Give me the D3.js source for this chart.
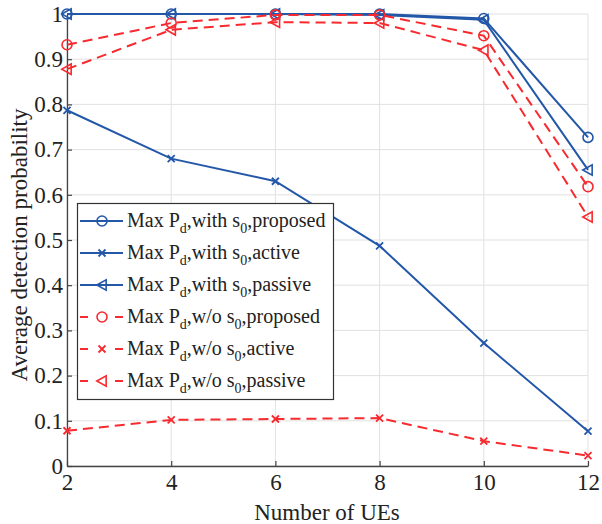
<!DOCTYPE html>
<html>
<head>
<meta charset="utf-8">
<script src="https://cdn.jsdelivr.net/npm/d3@7"></script>
</head>
<body style="margin:0; background:#fff">
<svg id="chart" width="602" height="524"></svg>
<script>
const ues = [2, 4, 6, 8, 10, 12]
const yTicks = [0, 0.1, 0.2, 0.3, 0.4, 0.5, 0.6, 0.7, 0.8, 0.9, 1]

const withProposed = [1, 1, 1, 1, 0.99, 0.727]
const withActive = [0.787, 0.68, 0.63, 0.487, 0.272, 0.077]
const withPassive = [1, 1, 1, 0.998, 0.987, 0.655]
const woProposed = [0.932, 0.98, 0.998, 0.998, 0.952, 0.618]
const woActive = [0.078, 0.102, 0.104, 0.106, 0.055, 0.023]
const woPassive = [0.878, 0.965, 0.982, 0.98, 0.92, 0.551]

const series = [
    { name: ',with s', tail: ',proposed', vals: withProposed, color: '#2357a8', dash: null, marker: 'circle' },
    { name: ',with s', tail: ',active', vals: withActive, color: '#2357a8', dash: null, marker: 'x' },
    { name: ',with s', tail: ',passive', vals: withPassive, color: '#2357a8', dash: null, marker: 'tri' },
    { name: ',w/o s', tail: ',proposed', vals: woProposed, color: '#f72a2f', dash: '10,6', marker: 'circle' },
    { name: ',w/o s', tail: ',active', vals: woActive, color: '#f72a2f', dash: '10,6', marker: 'x' },
    { name: ',w/o s', tail: ',passive', vals: woPassive, color: '#f72a2f', dash: '10,6', marker: 'tri' }
]

const serif = 'Liberation Serif'

// every text gets the serif face as an inline style
function face (sel, size) {
    return sel.style('font-family', serif).style('font-size', size + 'px')
}

let svg = d3.select('#chart')

let x = d3.scaleLinear().domain([2, 12]).range([67, 588])
let y = d3.scaleLinear().domain([0, 1]).range([466, 14])

// grid
let grid = svg.append('g')
grid.selectAll('line.gx')
    .data(ues)
    .enter()
    .append('line')
    .attr('x1', d => x(d)).attr('x2', d => x(d))
    .attr('y1', y(0)).attr('y2', y(1))
    .attr('stroke', '#e1e1e1').attr('stroke-width', 1)
grid.selectAll('line.gy')
    .data(yTicks)
    .enter()
    .append('line')
    .attr('x1', x(2)).attr('x2', x(12))
    .attr('y1', d => y(d)).attr('y2', d => y(d))
    .attr('stroke', '#e1e1e1').attr('stroke-width', 1)

// axes
let xAxis = d3.axisBottom(x).tickValues(ues).tickSizeInner(-5).tickSizeOuter(0).tickPadding(8)
let yAxis = d3.axisLeft(y).tickValues(yTicks).tickSizeInner(-5).tickSizeOuter(0).tickPadding(4)
    .tickFormat(d => d === 0 || d === 1 ? d3.format('d')(d) : d3.format('.1f')(d))

let gx = svg.append('g').attr('transform', `translate(0,${y(0)})`).call(xAxis)
let gy = svg.append('g').attr('transform', `translate(${x(2)},0)`).call(yAxis)
;[gx, gy].forEach(g => {
    g.attr('font-family', null).attr('font-size', null)
    g.select('.domain').attr('stroke', '#444').attr('stroke-width', 1.3)
    g.selectAll('.tick line').attr('stroke', '#444').attr('stroke-width', 1.2)
    face(g.selectAll('.tick text').attr('fill', '#222'), 23)
})
gx.selectAll('.tick text').attr('dy', '0.71em')

// labels
face(svg.append('text'), 23)
    .attr('x', 327).attr('y', 520)
    .attr('text-anchor', 'middle')
    .attr('fill', '#222')
    .text('Number of UEs')
face(svg.append('text'), 23)
    .attr('transform', 'translate(27,245) rotate(-90)')
    .attr('text-anchor', 'middle')
    .attr('fill', '#222')
    .text('Average detection probability')

function drawMarker (g, type, cx, cy, color) {
    if (type === 'circle') {
        g.append('circle').attr('cx', cx).attr('cy', cy).attr('r', 5)
            .attr('fill', 'none').attr('stroke', color).attr('stroke-width', 1.6)
    } else if (type === 'x') {
        let s = 3.5
        g.append('path')
            .attr('d', `M${cx - s},${cy - s}L${cx + s},${cy + s}M${cx - s},${cy + s}L${cx + s},${cy - s}`)
            .attr('stroke', color).attr('stroke-width', 1.8).attr('fill', 'none')
    } else {
        let s = 5.2
        g.append('path')
            .attr('d', `M${cx - s},${cy}L${cx + s * 0.8},${cy - s}L${cx + s * 0.8},${cy + s}Z`)
            .attr('stroke', color).attr('stroke-width', 1.6).attr('fill', 'none')
    }
}

let line = d3.line().x((d, i) => x(ues[i])).y(d => y(d))

series.forEach(s => {
    let g = svg.append('g')
    g.append('path')
        .attr('d', line(s.vals))
        .attr('fill', 'none')
        .attr('stroke', s.color)
        .attr('stroke-width', 2)
        .attr('stroke-dasharray', s.dash)
    s.vals.forEach((v, i) => drawMarker(g, s.marker, x(ues[i]), y(v), s.color))
})

// legend
let legend = svg.append('g')
legend.append('rect')
    .attr('x', 77.5).attr('y', 203.5).attr('width', 256).attr('height', 196)
    .attr('fill', '#fff').attr('stroke', '#333').attr('stroke-width', 1.2)

series.forEach((s, i) => {
    let ly = 221 + i * 32
    let g = legend.append('g')
    g.append('line')
        .attr('x1', 80).attr('x2', 123).attr('y1', ly).attr('y2', ly)
        .attr('stroke', s.color).attr('stroke-width', 2)
        .attr('stroke-dasharray', s.dash ? '8,27,8' : null)
    drawMarker(g, s.marker, 102, ly, s.color)
    let t = face(g.append('text'), 20)
        .attr('x', 127).attr('y', ly + 6)
        .attr('fill', '#222')
    t.append('tspan').text('Max P')
    t.append('tspan').attr('dy', 6).style('font-size', '14px').text('d')
    t.append('tspan').attr('dy', -6).text(s.name)
    t.append('tspan').attr('dy', 6).style('font-size', '14px').text('0')
    t.append('tspan').attr('dy', -6).text(s.tail)
})
</script>
</body>
</html>
